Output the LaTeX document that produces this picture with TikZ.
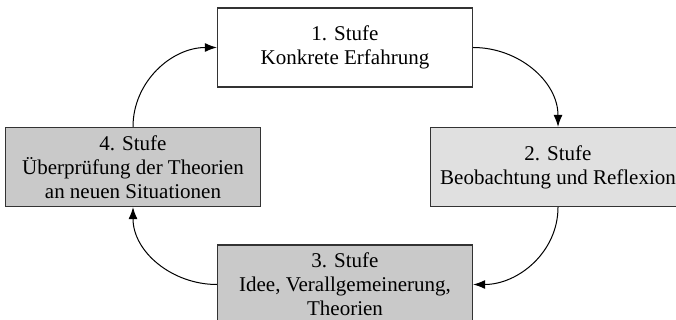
\documentclass[tikz,border=0pt]{standalone}
\usepackage{fontspec}
\setmainfont{Liberation Serif}
\usepackage{xcolor}
\usepackage{tikz}
\usetikzlibrary{arrows.meta,positioning,calc}
\definecolor{lightgrey}{gray}{0.88}
\definecolor{midgrey}{gray}{0.79}
\definecolor{edgegrey}{gray}{0.2}

\begin{document}
\begin{tikzpicture}[x=1pt,y=-1pt]
  \tikzset{stage/.style={draw=edgegrey, line width=1.3pt, minimum width=255pt,
      minimum height=79pt, align=center, inner sep=0pt,
      font=\fontsize{21}{24}\selectfont},
    cycle arrow/.style={-{Latex[length=12pt,width=9pt]}, line width=1pt}}
    \clip (0,0) rectangle (676,320);

    \node[stage, fill=white] (s1) at (345,47.5) {1. Stufe\\Konkrete Erfahrung};
    \node[stage, fill=lightgrey] (s2) at (558,167) {2. Stufe\\Beobachtung und Reflexion};
    \node[stage, fill=midgrey] (s3) at (345,284.5) {3. Stufe\\Idee, Verallgemeinerung,\\Theorien};
    \node[stage, fill=midgrey] (s4) at (133,167) {4. Stufe\\Überprüfung der Theorien\\an neuen Situationen};

    % Kreislauf
    \draw[cycle arrow] (s1.east) to[out=0, in=90] (s2.north);
    \draw[cycle arrow] (s2.south) to[out=-90, in=0] (s3.east);
    \draw[cycle arrow] (s3.west) to[out=180, in=-90] (s4.south);
    \draw[cycle arrow] (s4.north) to[out=90, in=180] (s1.west);
\end{tikzpicture}
\end{document}
